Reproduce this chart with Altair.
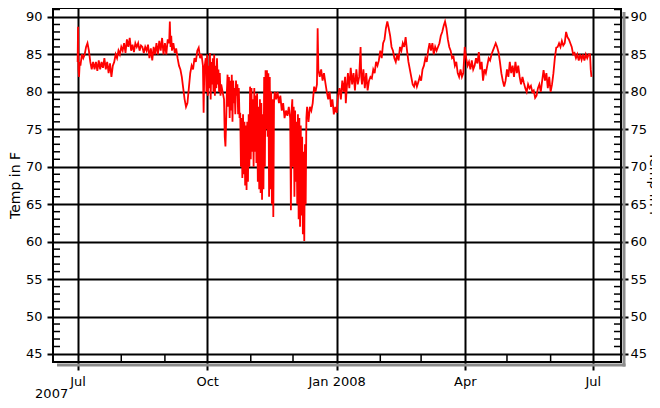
import altair as alt
import pandas as pd

# (day offset from 2007-07-01, temperature in F)
q3_2007 = [(0,84),(0.3,88.7),(0.6,83),(1,82),(1.5,84),(2,83.5),(3,85),(4,84.5),(5,85),(6,86),(7,86.5),(8,85.5),(9,84),(10,83),(11,84),(12,83),(13,84),(14,82.8),(15,84.2),(16,83),(17,84),(18,83.2),(19,84.5),(20,83),(21,84),(22,82.5),(23,83.8),(24,82),(25,83.5),(26,84),(27,85),(28,84.5),(29,85.5),(30,85),
           (31,86),(32,85.5),(33,86.5),(34,85.2),(35,87),(36,86),(37,87.2),(38,85.5),(39,86.3),(40,85.3),(41,86.5),(42,86),(43,86.5),(44,85.5),(45,86.2),(46,86),(47,85.2),(48,86),(49,85.5),(50,86.3),(51,84.5),(52,85.8),(53,84.2),(54,86),(55,85),(56,86.5),(57,85),(58,86.8),(59,85.5),(60,87.2),(61,85),(62,86.5),(63,85),(64,87),(65,86.5),(65.5,89.4),(66,86),(66.5,87.5),(67,85.5),(68,86.5),(69,85.2),(70,85.8),(71,84.5),(72,83.5),(73,83),(74,82),(75,80.5),(76,79),(77,78),(78,78.5),(79,80.5),(80,82.5),(81,83.5),(82,83),(83,84.5),(84,84),(85,85.5),(86,85.9),(87,84.5),(88,85),(89,83.5),(89.5,77.2),(90,83),(91,84.5)]
q4_2007 = [(91.5,80),(92,85),(92.5,79.5),(93,83.5),(93.5,80.5),(94,85.2),(94.5,79),(95,84),(95.5,81),(96,84.5),(96.5,80),(97,85),(97.5,79.5),(98,83.5),(98.5,80.5),(99,84.5),(99.5,81),(100,83),(100.5,80),(101,82.5),(101.5,79.5),(102,81),(103,80),(104,79),(104.5,74),(105,72.7),(105.5,76),(106,80),(106.5,82.3),(107,78),(107.5,82),(108,76.5),(108.5,81.5),(109,77.5),(109.5,82.3),(110,76),(110.5,81.5),(111,78.5),(111.5,80.5),(112,77),(112.5,81.5),(113,79.5),(113.5,81),(114,77),(114.5,80.5),(115,76.5),
           (115.5,77.2),(116,70),(116.5,76.5),(117,68.5),(117.5,77),(118,69),(118.5,76),(119,67.5),(119.5,75.5),(120,66.9),(120.5,76),(121,68),(121.5,77),(122,70),(122.5,80.7),(123,71),(123.5,80.5),(124,72),(124.5,79),(125,70),(125.5,80.5),(126,72),(126.5,79.5),(127,70.5),(127.5,79.8),(128,68),(128.5,78),(129,67),(129.5,79),(130,66.5),(130.5,78.5),(131,65.6),(131.5,77),(132,67),(132.5,82),(133,70),(133.5,82.9),(134,75),(134.5,82.9),(135,74),(135.5,82.5),(136,66),(136.5,82),(137,67),(137.5,80),(138,65),(138.5,79),(139,63.3),(139.5,78.5),
           (140,80),(141,79),(142,80),(143,78.5),(144,79.5),(145,77.5),(146,78.5),(147,76.5),(148,77.5),(149,76.8),(150,78),(151,76.5),(151.5,64.2),(152,77.5),(152.5,79),(153,70),(153.5,78),(154,66),(154.5,77.5),(155,68),(155.5,76),(156,65),(156.5,77),(157,63),(157.5,76.5),(158,62),(158.5,75.5),(159,63.5),(159.5,74),(160,61),(160.5,72),(161,60.1),(161.5,73),(162,65),(162.5,76.5),(163,78),(164,76),(165,78),(166,77.5),(167,78.5),(168,80.7),(169,80),(170,81),(170.5,88.5),(171,83),(172,82),(173,83),(174,81.5),(175,82.5),(176,81.2),(177,80),(178,79),(179,80),(180,78),(181,79),(182,77),(183,78)]
q1_2008 = [(184,77.2),(185,79.5),(186,80.5),(187,79),(188,81.5),(189,80),(190,82),(190.5,78.5),(191,80),(192,82.5),(193,80.5),(194,83.2),(195,81),(196,82.5),(197,80.2),(198,83),(199,81),(200,82),(201,86),(201.5,82),(202,81),(203,83),(204,80.5),(205,82.5),(206,80.2),(207,81.5),(208,82),(209,81.8),(210,83),(211,82.5),(212,84),(213,83.5),(214,84.2),(215,85.5),(216,84.5),(217,86.5),(218,87),(219,88.5),(220,89.4),(221,88.5),(222,87.5),(223,86),(224,85.5),(225,84.5),(226,84),(227,85),(228,84.2),(229,86),(230,85.5),(231,86.5),(232,86),(233,87.3),(234,85.5),(235,84),(236,83),(237,82),(238,81),(239,80.7),(240,81.5),(241,80.7),(242,81.3),(243,82),(244,81.5),(245,83),(246,83.5),(247,84.5),(248,84),(249,85.5),(250,86.5),(251,85.5),(252,86.5),(253,85),(254,86),(255,85.5),(256,86),(257,86.5),(258,87.5),(259,88),(260,88.8),(261,89.4),(262,88.5),(263,87),(264,86),(265,85.5),(266,84.5),(267,84.7),(268,83.5),(269,84),(270,82.5),(271,82),(272,83),(273,82),(274,82.5)]
q2_2008 = [(275,86),(276,84.5),(277,83.5),(278,84),(279,83),(280,84.2),(281,83),(282,83.5),(283,84.5),(284,83.8),(285,85.3),(286,83),(287,84),(288,81.5),(289,83),(290,82.5),(291,83.5),(292,84.5),(293,84.2),(294,85),(295,85.5),(296,86),(297,86.5),(298,86),(299,85.3),(300,84),(301,82.5),(302,81.5),(303,80.7),(304,81.5),(305,83),(306,82),(307,84),(308,82.5),(309,83.5),(310,82),(311,84),(312,82.5),(313,83.5),(314,82),(315,81),(316,82),(317,81.2),(318,80.5),(319,80),(320,81),(321,80.5),(322,80.8),(323,80),(324,80.2),(325,79.2),(326,79.5),(327,80.5),(328,81),(329,80),(330,81.5),(331,82.9),(332,81.5),(333,82.5),(334,80.5),(335,82),(336,80),(337,81),(338,82.5),(339,84.5),(340,85.9),(341,86),(342,86.5),(343,86),(344,86.8),(345,86.2),(346,86.5),(347,88),(348,87.3),(349,87),(350,86.5),(351,86),(352,85),(353,85.2),(354,84.5),(355,85),(356,84.2),(357,85),(358,84.3),(359,85),(360,84.2),(361,85),(362,84.5),(363,85),(364,85),(364.5,83),(365,82)]

y_major = [45, 50, 55, 60, 65, 70, 75, 80, 85, 90]
y_minor = [46, 47, 48, 49, 51, 52, 53, 54, 56, 57, 58, 59, 61, 62, 63, 64, 66, 67, 68, 69,
           71, 72, 73, 74, 76, 77, 78, 79, 81, 82, 83, 84, 86, 87, 88, 89, 91]
x_minor = ["2007-08-01T00:00:00", "2007-09-01T00:00:00", "2007-11-01T00:00:00", "2007-12-01T00:00:00",
           "2008-02-01T00:00:00", "2008-03-01T00:00:00", "2008-05-01T00:00:00", "2008-06-01T00:00:00"]

start = pd.Timestamp("2007-07-01")
rows = q3_2007 + q4_2007 + q1_2008 + q2_2008
df = pd.DataFrame({
    "date": [(start + pd.Timedelta(days=d)).strftime("%Y-%m-%dT%H:%M:%S") for d, _ in rows],
    "temp": [t for _, t in rows],
})

W, H = 568, 354
FONT = "DejaVu Sans"

xscale = alt.Scale(domain=[alt.DateTime(year=2007, month=6, date=13, hours=12),
                           alt.DateTime(year=2008, month=7, date=21)])
yscale = alt.Scale(domain=[43.93, 91.2], nice=False, zero=False)

x_axis = alt.Axis(tickCount=alt.TimeIntervalStep(interval="month", step=3),
                  labelExpr="month(datum.value) == 0 ? timeFormat(datum.value, '%b %Y') : timeFormat(datum.value, '%b')",
                  grid=True, gridColor="black", gridWidth=2, gridOpacity=1,
                  tickColor="black", tickWidth=2, tickSize=8, domain=False,
                  labelFont=FONT, labelFontSize=13, labelColor="black", labelPadding=5,
                  labelFlush=False, labelOverlap=False, labelBound=False, title=None)

y_left = alt.Axis(values=y_major, grid=True, gridColor="black", gridWidth=2, gridOpacity=1,
                  tickColor="black", tickWidth=2, tickSize=6, domain=False,
                  labelFont=FONT, labelFontSize=13, labelColor="black", labelPadding=5,
                  title="Temp in F", titleFont=FONT, titleFontSize=14, titleFontWeight="normal",
                  titleColor="black", titlePadding=3)

y_right = alt.Axis(orient="right", values=y_major, grid=False,
                   tickColor="black", tickWidth=2, tickSize=7, domain=False,
                   labelFont=FONT, labelFontSize=13, labelColor="black", labelPadding=2,
                   title="Temp in F", titleFont=FONT, titleFontSize=14, titleFontWeight="normal",
                   titleColor="black", titlePadding=0)

line = alt.Chart(df).mark_line(color="#ff0000", strokeWidth=1.8).encode(
    x=alt.X("date:T", scale=xscale, axis=x_axis),
    y=alt.Y("temp:Q", scale=yscale, axis=y_left),
)

ymin_df = pd.DataFrame({"v": y_minor})
left_minor = alt.Chart(ymin_df).mark_rule(color="black", strokeWidth=1.5).encode(
    x=alt.value(0), x2=alt.value(7),
    y=alt.Y("v:Q", scale=yscale, axis=None),
)
right_minor = alt.Chart(ymin_df).mark_rule(color="black", strokeWidth=1.5).encode(
    x=alt.value(W - 7), x2=alt.value(W),
    y=alt.Y("v:Q", scale=yscale, axis=y_right),
)

xmin_df = pd.DataFrame({"date": x_minor})
bottom_minor = alt.Chart(xmin_df).mark_rule(color="black", strokeWidth=1.5).encode(
    x=alt.X("date:T", scale=xscale, axis=x_axis),
    y=alt.value(H - 8), y2=alt.value(H),
)

one = alt.Data(values=[{"k": 1}])
shadow_r = alt.Chart(one).mark_rect(color="#8c8c8c").encode(
    x=alt.value(W + 1.5), x2=alt.value(W + 4.5), y=alt.value(4), y2=alt.value(H + 4.5))
shadow_b = alt.Chart(one).mark_rect(color="#8c8c8c").encode(
    x=alt.value(4), x2=alt.value(W + 4.5), y=alt.value(H + 1.5), y2=alt.value(H + 4.5))

year_df = pd.DataFrame({"date": ["2007-07-01T00:00:00"], "label": ["2007"]})
year_txt = alt.Chart(year_df).mark_text(font=FONT, fontSize=13, color="black", dx=-26,
                                        baseline="middle", align="center").encode(
    x=alt.X("date:T", scale=xscale, axis=x_axis),
    y=alt.value(H + 32),
    text="label:N",
)

chart = alt.layer(shadow_r, shadow_b, line, left_minor, right_minor, bottom_minor, year_txt).resolve_axis(
    y="independent"
).properties(
    width=W, height=H,
    autosize=alt.AutoSizeParams(type="none"),
    padding={"left": 45, "top": 0, "right": 31, "bottom": 38},
    background="white",
).configure_view(stroke="black", strokeWidth=2)

chart.save("out.html", embed_options={"renderer": "svg", "actions": False})
